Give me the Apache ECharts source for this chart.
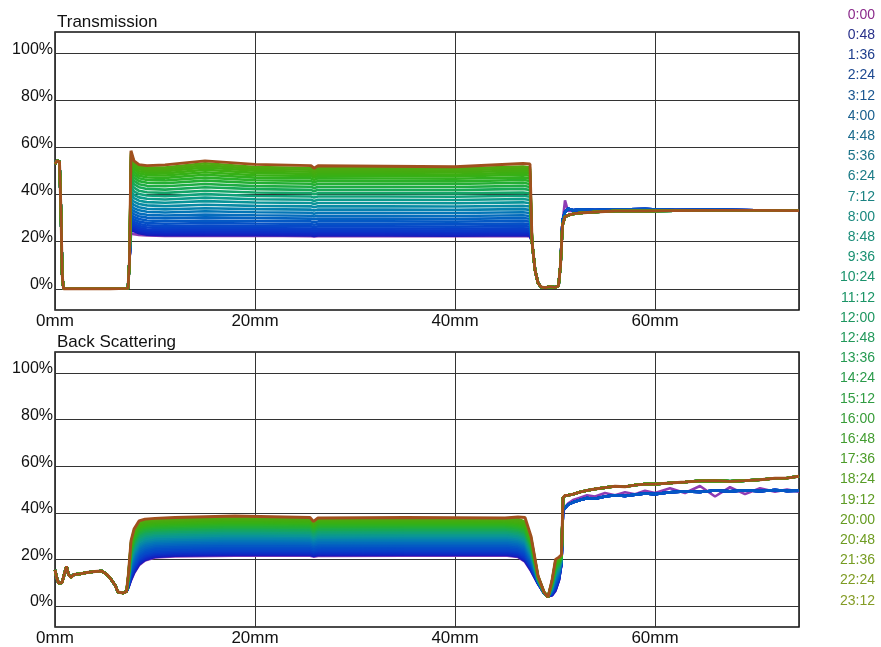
<!DOCTYPE html>
<html><head><meta charset="utf-8">
<script src="https://cdn.jsdelivr.net/npm/echarts@6.0.0/dist/echarts.min.js"></script>
<style>html,body{margin:0;padding:0;background:#fff}#c{width:881px;height:647px}</style>
</head><body><div id="c"></div>
<script>
const timeLabels = ['0:00','0:48','1:36','2:24','3:12','4:00','4:48','5:36','6:24','7:12','8:00','8:48','9:36','10:24','11:12','12:00','12:48','13:36','14:24','15:12','16:00','16:48','17:36','18:24','19:12','20:00','20:48','21:36','22:24','23:12'];
const legendColors = ['#8b2a8b','#28308a','#1c3c8c','#1c4890','#1a5690','#1a608e','#1a6a8c','#1a7288','#1a7a86','#1a8282','#1a887e','#1a8c78','#1a9072','#1a926c','#1a9466','#1e9660','#22985a','#269a52','#2a9a4a','#309c42','#389c38','#429c30','#4c9c2a','#569c26','#5e9c24','#669c22','#6e9c22','#769c22','#7e9c24','#849c26'];
const lineColors = ['#8e3cb4','#1a1ab8','#1420c0','#1028c4','#0c30c6','#0a38c8','#0840c8','#0648c8','#0450c6','#0458c4','#0462c0','#046cbc','#0476b6','#0680ae','#088aa4','#0a9498','#0c9a8a','#10a07a','#14a468','#18a856','#1eac44','#24ae34','#2ab028','#30b01e','#36b016','#3cae12','#42ac10','#48aa10','#50a810','#a0501e'];
const xTicks = [0, 20, 40, 60];
const yTicks = [0, 20, 40, 60, 80, 100];

// ---------- Transmission ----------
const transHeadX = [0, 0.2, 0.45, 0.6, 0.72, 0.85, 3, 5.5, 7.3];
const transHeadY = [53, 54.3, 54, 32, 6, 0, 0, 0, 0.2];
const transBodyX = [7.45, 7.6, 7.9, 8.4, 9.2, 11, 15, 20, 25.6, 25.9, 26.3, 33, 40, 46.8, 47.5];
const transBody = [
 [12, 23.5, 23.2, 22.9, 22.6, 22.4, 22.4, 22.5, 22.3, 22.2, 22.3, 22.4, 22.3, 22.4, 22.2],
 [12, 25.0, 24.4, 23.6, 23.0, 22.7, 22.7, 22.8, 22.6, 22.4, 22.6, 22.6, 22.5, 22.7, 22.5],
 [12, 25.6, 24.9, 24.0, 23.4, 23.1, 23.2, 23.2, 23.0, 22.8, 23.0, 23.0, 22.9, 23.1, 22.9],
 [12, 26.2, 25.4, 24.5, 23.9, 23.6, 23.7, 23.7, 23.5, 23.3, 23.5, 23.5, 23.4, 23.6, 23.4],
 [12, 26.8, 26.0, 25.1, 24.5, 24.2, 24.3, 24.3, 24.1, 23.9, 24.1, 24.1, 24.0, 24.2, 24.0],
 [12, 27.5, 26.7, 25.8, 25.2, 24.9, 25.0, 25.0, 24.8, 24.6, 24.8, 24.8, 24.7, 24.9, 24.7],
 [12, 28.3, 27.5, 26.6, 26.0, 25.7, 25.9, 25.8, 25.6, 25.4, 25.6, 25.6, 25.5, 25.7, 25.5],
 [12, 29.2, 28.4, 27.5, 26.9, 26.6, 26.8, 26.7, 26.5, 26.2, 26.5, 26.5, 26.4, 26.6, 26.4],
 [12, 30.2, 29.4, 28.5, 27.9, 27.6, 27.9, 27.7, 27.5, 27.2, 27.5, 27.5, 27.4, 27.7, 27.4],
 [12, 31.3, 30.5, 29.6, 29.0, 28.7, 29.0, 28.8, 28.6, 28.3, 28.6, 28.6, 28.5, 28.8, 28.5],
 [12, 32.6, 31.7, 30.8, 30.2, 29.9, 30.3, 30.0, 29.8, 29.5, 29.8, 29.8, 29.7, 30.0, 29.7],
 [12, 33.9, 32.9, 32.0, 31.4, 31.1, 31.5, 31.2, 31.0, 30.7, 31.0, 31.0, 30.9, 31.2, 30.9],
 [12, 35.3, 34.2, 33.3, 32.7, 32.4, 32.9, 32.5, 32.3, 31.9, 32.3, 32.3, 32.2, 32.5, 32.2],
 [12, 36.7, 35.6, 34.6, 34.0, 33.7, 34.2, 33.8, 33.6, 33.2, 33.6, 33.6, 33.5, 33.8, 33.5],
 [12, 38.2, 37.0, 36.0, 35.4, 35.1, 35.7, 35.2, 35.0, 34.6, 35.0, 35.0, 34.9, 35.2, 34.9],
 [12, 39.8, 38.5, 37.4, 36.8, 36.5, 37.2, 36.6, 36.4, 36.0, 36.4, 36.4, 36.3, 36.7, 36.3],
 [12, 41.4, 39.9, 38.8, 38.2, 37.9, 38.7, 38.0, 37.8, 37.3, 37.8, 37.8, 37.7, 38.1, 37.7],
 [12, 43.0, 41.4, 40.2, 39.6, 39.3, 40.2, 39.4, 39.2, 38.7, 39.2, 39.2, 39.1, 39.5, 39.1],
 [12, 44.6, 42.9, 41.6, 41.0, 40.7, 41.6, 40.9, 40.6, 40.1, 40.6, 40.6, 40.5, 40.9, 40.5],
 [12, 46.3, 44.4, 43.1, 42.4, 42.1, 43.1, 42.3, 42.0, 41.4, 42.0, 42.0, 41.9, 42.4, 41.9],
 [12, 47.9, 45.8, 44.4, 43.7, 43.5, 44.5, 43.6, 43.3, 42.7, 43.3, 43.3, 43.2, 43.7, 43.2],
 [12, 49.5, 47.2, 45.7, 45.0, 44.8, 45.9, 44.9, 44.6, 44.0, 44.6, 44.6, 44.5, 45.0, 44.5],
 [12, 51.0, 48.5, 46.9, 46.2, 46.0, 47.2, 46.1, 45.8, 45.1, 45.8, 45.7, 45.6, 46.2, 45.8],
 [12, 52.4, 49.7, 48.0, 47.3, 47.1, 48.4, 47.2, 46.9, 46.2, 46.9, 46.8, 46.7, 47.3, 46.9],
 [12, 53.7, 50.8, 49.0, 48.3, 48.1, 49.5, 48.2, 47.9, 47.2, 47.9, 47.8, 47.7, 48.4, 48.0],
 [12, 54.9, 51.8, 49.9, 49.2, 49.0, 50.5, 49.2, 48.8, 48.0, 48.8, 48.7, 48.5, 49.3, 48.9],
 [12, 56.0, 52.7, 50.8, 50.0, 49.9, 51.5, 50.1, 49.7, 48.9, 49.7, 49.6, 49.4, 50.2, 49.8],
 [12, 57.0, 53.4, 51.6, 50.8, 50.7, 52.4, 50.9, 50.5, 49.6, 50.5, 50.4, 50.2, 51.1, 50.7],
 [12, 57.8, 54.0, 52.3, 51.6, 51.5, 53.3, 51.7, 51.3, 50.4, 51.3, 51.2, 51.0, 51.9, 51.5],
 [12, 58.6, 54.3, 52.7, 52.3, 52.6, 54.3, 52.8, 52.3, 51.2, 52.2, 52.0, 51.8, 53.2, 53.0]
];
const transTailX = [47.7, 48.0, 48.3, 48.6, 49.0, 49.5, 50.0, 50.35, 50.55, 50.75, 51.0, 51.3, 51.8, 52.5, 54, 56, 59, 62, 66, 70, 74.4];
const transTailA = [20, 8, 2.5, 0.8, 0.5, 0.9, 0.6, 1.2, 10, 28, 37.5, 33.0, 33.0, 33.2, 33.3, 33.5, 33.6, 33.3, 33.5, 33.3, 33.3];
const transTailB = [20, 8, 2.5, 0.8, 0.5, 0.9, 0.6, 1.2, 10, 29, 32.5, 34.0, 33.3, 33.6, 33.4, 33.6, 33.8, 33.4, 33.5, 33.3, 33.3];
const transTailC = [20, 8, 2.5, 0.8, 0.5, 0.9, 0.6, 1.2, 10, 27, 30.5, 31.2, 31.8, 32.2, 32.6, 33.0, 33.0, 33.2, 33.3, 33.3, 33.2];

// ---------- Back Scattering ----------
const bsHeadX = [0, 0.15, 0.35, 0.7, 0.95, 1.15, 1.35, 1.6, 1.9, 2.5, 3.2, 4.0, 4.7, 5.2, 5.6, 6.0, 6.3, 6.8, 7.15];
const bsHeadY = [15.5, 12.5, 9.8, 10.0, 14.0, 17.0, 13.5, 12.3, 13.5, 13.8, 14.4, 14.8, 15.0, 13.5, 11.5, 9.0, 6.0, 5.6, 6.2];
const bsBodyX = [7.35, 7.6, 7.9, 8.4, 9.0, 10.0, 12.0, 18.0, 25.5, 25.85, 26.3, 35.0, 45.0, 46.3, 47.0, 47.6, 48.3, 48.9, 49.3, 49.7, 50.05, 50.4, 50.65];
const bsBody = [
 [8.0, 11.0, 14.0, 17.5, 19.5, 20.8, 21.3, 21.6, 21.6, 21.2, 21.5, 21.6, 21.7, 21.0, 19.0, 15.0, 9.5, 5.5, 4.2, 4.5, 6.5, 11.0, 18.0],
 [8.1, 11.3, 14.3, 17.8, 19.8, 21.1, 21.6, 21.9, 21.9, 21.5, 21.8, 21.9, 22.0, 21.3, 19.3, 15.3, 9.6, 5.5, 4.2, 4.6, 6.7, 11.2, 18.1],
 [8.2, 11.6, 14.7, 18.2, 20.1, 21.4, 21.9, 22.2, 22.2, 21.7, 22.1, 22.2, 22.3, 21.6, 19.7, 15.5, 9.6, 5.5, 4.2, 4.7, 7.0, 11.4, 18.1],
 [8.4, 12.0, 15.1, 18.6, 20.5, 21.8, 22.3, 22.6, 22.6, 22.1, 22.5, 22.6, 22.7, 22.0, 20.1, 15.9, 9.7, 5.5, 4.2, 4.9, 7.3, 11.6, 18.2],
 [8.5, 12.4, 15.6, 19.1, 21.0, 22.2, 22.7, 23.0, 23.0, 22.5, 22.9, 23.0, 23.1, 22.4, 20.6, 16.3, 9.8, 5.5, 4.2, 5.1, 7.6, 11.9, 18.3],
 [8.7, 13.0, 16.2, 19.7, 21.5, 22.7, 23.2, 23.6, 23.5, 23.0, 23.4, 23.5, 23.6, 22.9, 21.2, 16.7, 9.9, 5.6, 4.2, 5.3, 8.0, 12.2, 18.5],
 [8.9, 13.5, 16.8, 20.3, 22.1, 23.2, 23.7, 24.1, 24.0, 23.5, 23.9, 24.0, 24.1, 23.4, 21.7, 17.2, 10.0, 5.6, 4.1, 5.4, 8.5, 12.5, 18.6],
 [9.1, 14.1, 17.4, 20.9, 22.7, 23.8, 24.3, 24.7, 24.6, 24.0, 24.5, 24.6, 24.7, 24.0, 22.4, 17.7, 10.1, 5.6, 4.1, 5.7, 8.9, 12.8, 18.7],
 [9.3, 14.7, 18.2, 21.7, 23.4, 24.5, 24.9, 25.3, 25.2, 24.6, 25.1, 25.2, 25.3, 24.6, 23.0, 18.3, 10.3, 5.6, 4.1, 5.9, 9.5, 13.2, 18.9],
 [9.6, 15.4, 18.9, 22.4, 24.1, 25.2, 25.6, 26.0, 25.9, 25.3, 25.8, 25.9, 26.0, 25.3, 23.7, 18.9, 10.4, 5.6, 4.1, 6.2, 10.0, 13.6, 19.0],
 [9.8, 16.1, 19.7, 23.2, 24.8, 25.9, 26.3, 26.8, 26.6, 26.0, 26.5, 26.6, 26.7, 26.0, 24.4, 19.5, 10.5, 5.7, 4.1, 6.5, 10.6, 14.0, 19.2],
 [10.1, 16.9, 20.6, 24.1, 25.6, 26.6, 27.0, 27.5, 27.3, 26.6, 27.2, 27.3, 27.4, 26.7, 25.2, 20.2, 10.7, 5.7, 4.1, 6.7, 11.2, 14.5, 19.4],
 [10.3, 17.6, 21.4, 24.9, 26.4, 27.3, 27.7, 28.2, 28.0, 27.2, 27.9, 28.0, 28.1, 27.4, 25.9, 20.9, 10.9, 5.7, 4.0, 7.0, 11.8, 14.9, 19.6],
 [10.6, 18.3, 22.2, 25.7, 27.2, 28.0, 28.4, 28.9, 28.7, 27.9, 28.6, 28.7, 28.8, 28.1, 26.6, 21.5, 11.0, 5.7, 4.0, 7.3, 12.3, 15.3, 19.7],
 [10.8, 19.0, 22.9, 26.4, 27.9, 28.7, 29.1, 29.6, 29.4, 28.5, 29.3, 29.4, 29.5, 28.8, 27.3, 22.1, 11.1, 5.7, 4.0, 7.6, 12.8, 15.7, 19.9],
 [11.1, 19.8, 23.8, 27.3, 28.7, 29.5, 29.8, 30.4, 30.1, 29.2, 30.0, 30.1, 30.2, 29.5, 28.1, 22.7, 11.3, 5.8, 4.0, 7.9, 13.5, 16.2, 20.1],
 [11.4, 20.5, 24.6, 28.1, 29.5, 30.2, 30.5, 31.1, 30.8, 29.8, 30.7, 30.8, 30.9, 30.2, 28.9, 23.4, 11.5, 5.8, 3.9, 8.1, 14.1, 16.6, 20.2],
 [11.6, 21.2, 25.4, 28.9, 30.2, 30.9, 31.2, 31.8, 31.5, 30.4, 31.4, 31.5, 31.6, 30.9, 29.7, 24.0, 11.6, 5.8, 3.9, 8.4, 14.6, 17.0, 20.4],
 [11.8, 21.9, 26.2, 29.7, 30.9, 31.6, 31.9, 32.5, 32.2, 31.1, 32.1, 32.2, 32.3, 31.6, 30.4, 24.6, 11.7, 5.8, 3.9, 8.7, 15.1, 17.4, 20.6],
 [12.1, 22.6, 27.0, 30.5, 31.7, 32.3, 32.6, 33.2, 32.9, 31.7, 32.8, 32.9, 32.9, 32.3, 31.2, 25.3, 11.9, 5.8, 3.9, 9.0, 15.8, 17.9, 20.7],
 [12.3, 23.2, 27.7, 31.2, 32.3, 32.9, 33.2, 33.8, 33.5, 32.3, 33.4, 33.5, 33.5, 32.9, 31.8, 25.8, 12.0, 5.9, 3.9, 9.2, 16.2, 18.2, 20.9],
 [12.6, 23.9, 28.4, 31.9, 33.0, 33.5, 33.8, 34.4, 34.1, 32.8, 34.0, 34.1, 34.1, 33.5, 32.5, 26.4, 12.2, 5.9, 3.9, 9.4, 16.8, 18.6, 21.0],
 [12.7, 24.4, 29.0, 32.5, 33.6, 34.1, 34.4, 35.0, 34.7, 33.4, 34.6, 34.7, 34.7, 34.1, 33.1, 26.9, 12.3, 5.9, 3.9, 9.6, 17.2, 18.9, 21.2],
 [12.9, 24.9, 29.6, 33.1, 34.1, 34.6, 34.9, 35.5, 35.2, 33.8, 35.1, 35.2, 35.1, 34.6, 33.6, 27.3, 12.4, 5.9, 3.9, 9.8, 17.6, 19.2, 21.3],
 [13.1, 25.5, 30.2, 33.7, 34.6, 35.1, 35.4, 36.0, 35.7, 34.3, 35.6, 35.7, 35.6, 35.1, 34.2, 27.8, 12.5, 5.9, 3.9, 10.0, 18.0, 19.5, 21.4],
 [13.3, 26.0, 30.7, 34.2, 35.1, 35.6, 35.9, 36.5, 36.2, 34.7, 36.1, 36.2, 36.1, 35.6, 34.8, 28.2, 12.6, 5.9, 3.9, 10.2, 18.4, 19.8, 21.5],
 [13.5, 26.5, 31.3, 34.8, 35.7, 36.1, 36.4, 37.0, 36.7, 35.2, 36.6, 36.7, 36.5, 36.1, 35.3, 28.7, 12.7, 6.0, 3.9, 10.4, 18.8, 20.1, 21.6],
 [13.6, 27.0, 31.9, 35.4, 36.2, 36.6, 36.8, 37.4, 37.1, 35.5, 37.0, 37.1, 36.9, 36.7, 35.8, 29.1, 12.8, 6.0, 3.8, 10.6, 19.2, 20.4, 21.8],
 [13.8, 27.3, 32.3, 35.8, 36.6, 37.0, 37.2, 37.9, 37.5, 35.9, 37.3, 37.5, 37.3, 37.4, 36.2, 29.4, 12.9, 6.0, 3.8, 10.8, 19.6, 20.6, 21.9],
 [14.0, 28.0, 33.0, 36.5, 37.3, 37.6, 38.0, 38.6, 38.0, 36.3, 37.8, 38.0, 37.8, 38.2, 38.0, 30.0, 13.0, 6.0, 3.8, 11.0, 20.0, 21.0, 22.0]
];
const bsTailX = [50.8, 51.0, 51.3, 51.8, 52.5, 53.2, 54.0, 55.0, 56.0, 57.0, 58.0, 59.0, 60.0, 61.5, 63.0, 64.5, 66.0, 67.5, 69.0, 70.5, 72.0, 73.2, 74.4];
const bsTailA = [40, 42.5, 44.0, 45.5, 46.5, 47.5, 47.0, 48.5, 47.5, 48.8, 48.0, 49.5, 48.5, 50.5, 48.5, 51.5, 47.0, 51.0, 48.0, 50.5, 49.0, 50.0, 49.0];
const bsTailB = [41, 42.0, 43.5, 44.5, 45.5, 46.3, 46.0, 47.0, 47.5, 47.2, 47.8, 48.3, 48.0, 48.8, 49.2, 48.9, 49.6, 49.2, 49.7, 49.3, 49.8, 49.4, 49.5];
const bsTailC = [46.5, 47.4, 47.5, 48.0, 48.9, 49.6, 50.2, 50.8, 51.4, 51.2, 51.9, 52.3, 52.3, 52.8, 53.2, 53.7, 53.8, 53.5, 53.8, 54.2, 54.8, 54.9, 55.7];

// which tail each time step follows (0 = A, 1 = B, 2 = C)
const tailGroup = [0,1,1,1,1,1,1,1,1,1,2,2,2,2,2,2,2,2,2,2,2,2,2,2,2,2,2,2,2,2];

const F = '"Liberation Sans", Arial, sans-serif';

function pairs(xs, ys) { return xs.map((x, i) => [x, ys[i]]); }

const transTails = [transTailA, transTailB, transTailC];
const bsTails = [bsTailA, bsTailB, bsTailC];

const series = [];
timeLabels.forEach((name, i) => {
  const last = i === timeLabels.length - 1;
  const common = {
    name, type: 'line', showSymbol: false, symbol: 'none', animation: false,
    emphasis: { disabled: true }, silent: true, clip: true,
    color: lineColors[i],
    lineStyle: { width: last ? 2.9 : 2.6, color: lineColors[i] }
  };
  series.push(Object.assign({}, common, {
    xAxisIndex: 0, yAxisIndex: 0,
    data: pairs(transHeadX, transHeadY)
      .concat(pairs(transBodyX, transBody[i]))
      .concat(pairs(transTailX, transTails[tailGroup[i]]))
  }));
  series.push(Object.assign({}, common, {
    xAxisIndex: 1, yAxisIndex: 1,
    data: pairs(bsHeadX, bsHeadY)
      .concat(pairs(bsBodyX, bsBody[i]))
      .concat(pairs(bsTailX, bsTails[tailGroup[i]]))
  }));
});

function xAxisCfg(gi) {
  return {
    type: 'value', gridIndex: gi, min: 0, max: 74.4, interval: 20,
    axisLine: { show: false }, axisTick: { show: false },
    axisLabel: { formatter: '{value}mm', fontSize: 17, color: '#111', fontFamily: F, margin: 3, showMaxLabel: false },
    splitLine: { show: true, lineStyle: { color: '#333', width: 1 } }
  };
}
function yAxisCfg(gi) {
  return {
    type: 'value', gridIndex: gi, min: -9, max: 109,
    axisLine: { show: false },
    axisTick: { show: false, customValues: yTicks },
    axisLabel: { customValues: yTicks, formatter: '{value}%', fontSize: 16, color: '#111', fontFamily: F, margin: 2, verticalAlign: 'bottom', lineHeight: 8 },
    splitLine: { show: true, lineStyle: { color: '#333', width: 1 } }
  };
}

const chart = echarts.init(document.getElementById('c'), null, { renderer: 'canvas' });
chart.setOption({
  backgroundColor: '#fff',
  animation: false,
  title: [
    { text: 'Transmission', left: 57, top: 14, padding: 0, textStyle: { fontSize: 17, fontWeight: 'normal', color: '#111', fontFamily: F } },
    { text: 'Back Scattering', left: 57, top: 334, padding: 0, textStyle: { fontSize: 17, fontWeight: 'normal', color: '#111', fontFamily: F } }
  ],
  legend: {
    orient: 'vertical', right: 1, top: 8, padding: 0, align: 'right', icon: 'none',
    itemWidth: 0, itemHeight: 14, itemGap: 6.2, selectedMode: false,
    textStyle: { fontSize: 14, fontFamily: F },
    data: timeLabels.map((n, i) => ({ name: n, textStyle: { color: legendColors[i] } }))
  },
  grid: [
    { left: 55, top: 32, right: 82, height: 278, show: true, borderColor: '#111', borderWidth: 1.5, backgroundColor: 'transparent' },
    { left: 55, top: 352, right: 82, height: 278, show: true, borderColor: '#111', borderWidth: 1.5, backgroundColor: 'transparent' }
  ],
  xAxis: [xAxisCfg(0), xAxisCfg(1)],
  yAxis: [yAxisCfg(0), yAxisCfg(1)],
  series
});
</script></body></html>
